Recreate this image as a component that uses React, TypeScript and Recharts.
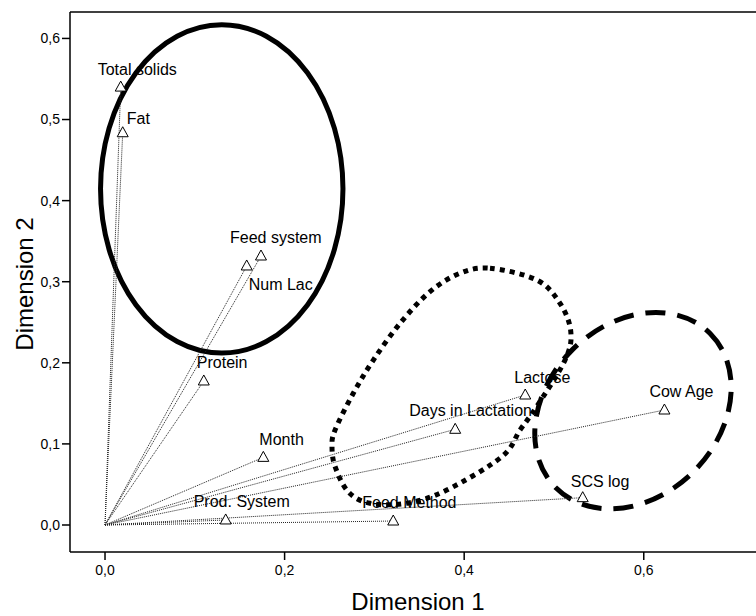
import React from 'react';
import { ScatterChart, Scatter, XAxis, YAxis, ReferenceLine, ReferenceArea, Label } from 'recharts';

// variable loadings on the two dimensions
const variables = [
  'Total solids', 'Fat', 'Feed system', 'Num Lac', 'Protein', 'Month',
  'Prod. System', 'Feed Method', 'Days in Lactation', 'Lactose', 'SCS log', 'Cow Age',
];
const dim1 = [0.0175, 0.0197, 0.1737, 0.1578, 0.110, 0.1763, 0.1344, 0.321, 0.390, 0.468, 0.532, 0.623];
const dim2 = [0.540, 0.4837, 0.3317, 0.3194, 0.1776, 0.0834, 0.0062, 0.0049, 0.118, 0.1603, 0.0337, 0.1418];

const xTicks = [0, 0.2, 0.4, 0.6];
const yTicks = [0, 0.1, 0.2, 0.3, 0.4, 0.5, 0.6];

const X_DOMAIN: [number, number] = [-0.039, 0.725];
const Y_DOMAIN: [number, number] = [-0.0333, 0.6326];

// label placement relative to the marker (left edge, baseline)
const labelOffset: Record<string, [number, number]> = {
  'Total solids': [-23, -12],
  'Fat': [4, -9],
  'Feed system': [-31, -13],
  'Num Lac': [2, 24],
  'Protein': [-7, -13],
  'Month': [-4, -12],
  'Prod. System': [-32, -13],
  'Feed Method': [-31, -13],
  'Days in Lactation': [-46, -13],
  'Lactose': [-11, -12],
  'SCS log': [-12, -11],
  'Cow Age': [-15, -13],
};

// group outlines: bounding boxes in data units
const solidGroup = { x1: -0.005, x2: 0.265, y1: 0.212, y2: 0.617 };
const dashedGroup = { x1: 0.4665, x2: 0.7095, y1: 0.035, y2: 0.247 };
const dottedGroup = { x1: 0.2528, x2: 0.519, y1: 0.0259, y2: 0.3169 };

// outline of the dotted blob, normalised to its box
const blobShape: [number, number][] = [
  [0.661, 0.001], [0.857, 0.051], [0.954, 0.150], [0.999, 0.270], [0.975, 0.390],
  [0.856, 0.588], [0.787, 0.686], [0.710, 0.800], [0.480, 0.941], [0.313, 0.997],
  [0.159, 0.997], [0.068, 0.948], [0.013, 0.842], [0.0, 0.757], [0.013, 0.686],
  [0.089, 0.531], [0.173, 0.390], [0.285, 0.234], [0.410, 0.100], [0.536, 0.022],
];

const points = variables.map((name, i) => ({ name, x: dim1[i], y: dim2[i] }));

const FONT = '"Liberation Sans", Arial, sans-serif';
const fmt = (v: number) => v.toFixed(1).replace('.', ',');

const closedPath = (pts: [number, number][]) => {
  const n = pts.length;
  let d = `M${pts[0][0]},${pts[0][1]}`;
  for (let i = 0; i < n; i++) {
    const p0 = pts[(i - 1 + n) % n];
    const p1 = pts[i];
    const p2 = pts[(i + 1) % n];
    const p3 = pts[(i + 2) % n];
    const c1 = [p1[0] + (p2[0] - p0[0]) / 6, p1[1] + (p2[1] - p0[1]) / 6];
    const c2 = [p2[0] - (p3[0] - p1[0]) / 6, p2[1] - (p3[1] - p1[1]) / 6];
    d += ` C${c1[0]},${c1[1]} ${c2[0]},${c2[1]} ${p2[0]},${p2[1]}`;
  }
  return d + ' Z';
};

const Marker = (props: any) => {
  const { cx, cy, payload } = props;
  const [dx, dy] = labelOffset[payload.name] || [0, -12];
  return (
    <g>
      <polygon
        points={`${cx},${cy - 6} ${cx - 5.5},${cy + 4} ${cx + 5.5},${cy + 4}`}
        fill="#fff"
        stroke="#000"
        strokeWidth={1}
      />
      <text x={cx + dx} y={cy + dy} fontSize={16} fontFamily={FONT} fill="#000">
        {payload.name}
      </text>
    </g>
  );
};

const ellipseShape = (dash?: string, angle = 0) => (props: any) => {
  const { x, y, width, height } = props;
  const cx = x + width / 2;
  const cy = y + height / 2;
  return (
    <ellipse
      cx={cx}
      cy={cy}
      rx={Math.abs(width) / 2}
      ry={Math.abs(height) / 2}
      transform={`rotate(${angle} ${cx} ${cy})`}
      fill="none"
      stroke="#000"
      strokeWidth={5}
      strokeDasharray={dash}
    />
  );
};

const blobRender = (props: any) => {
  const { x, y, width, height } = props;
  const pts = blobShape.map(([u, v]) => [x + u * width, y + v * height] as [number, number]);
  return <path d={closedPath(pts)} fill="none" stroke="#000" strokeWidth={5} strokeDasharray="5 5" />;
};

export default function App() {
  return (
    <div style={{ position: 'absolute', left: 0, top: 0, fontFamily: FONT, background: '#fff' }}>
      <ScatterChart width={756} height={616} margin={{ top: 12, right: 0, bottom: 0, left: 0 }}>
        <XAxis
          type="number"
          dataKey="x"
          domain={X_DOMAIN}
          ticks={xTicks}
          allowDataOverflow
          tickFormatter={fmt}
          height={64}
          tickSize={8}
          tickMargin={5}
          axisLine={{ stroke: '#000', strokeWidth: 1.5 }}
          tickLine={{ stroke: '#000', strokeWidth: 1.5 }}
          tick={{ fill: '#000', fontSize: 14, fontFamily: FONT }}
        >
          <Label
            content={(p: any) => {
              const vb = p.viewBox;
              return (
                <text x={vb.x + vb.width / 2 + 5} y={vb.y + vb.height - 6} textAnchor="middle" fontSize={24} fontFamily={FONT} fill="#000">
                  Dimension 1
                </text>
              );
            }}
          />
        </XAxis>
        <YAxis
          type="number"
          dataKey="y"
          domain={Y_DOMAIN}
          ticks={yTicks}
          allowDataOverflow
          tickFormatter={fmt}
          width={70}
          tickSize={8}
          tickMargin={2}
          axisLine={{ stroke: '#000', strokeWidth: 1.5 }}
          tickLine={{ stroke: '#000', strokeWidth: 1.5 }}
          tick={{ fill: '#000', fontSize: 14, fontFamily: FONT }}
        >
          <Label
            content={(p: any) => {
              const vb = p.viewBox;
              const lx = vb.x + 33;
              const ly = vb.y + vb.height / 2 + 2;
              return (
                <text x={lx} y={ly} transform={`rotate(-90 ${lx} ${ly})`} textAnchor="middle" fontSize={24} fontFamily={FONT} fill="#000">
                  Dimension 2
                </text>
              );
            }}
          />
        </YAxis>
        <ReferenceLine y={Y_DOMAIN[1]} stroke="#000" strokeWidth={1.5} ifOverflow="visible" />
        {points.map((p) => (
          <ReferenceLine
            key={p.name}
            segment={[{ x: 0, y: 0 }, { x: p.x, y: p.y }]}
            stroke="#222"
            strokeWidth={1}
            strokeDasharray="1 1"
            ifOverflow="visible"
          />
        ))}
        <Scatter data={points} shape={<Marker />} isAnimationActive={false} />
        <ReferenceArea {...solidGroup} ifOverflow="visible" shape={ellipseShape(undefined, 0)} />
        <ReferenceArea {...dashedGroup} ifOverflow="visible" shape={ellipseShape('20 12', -45)} />
        <ReferenceArea {...dottedGroup} ifOverflow="visible" shape={blobRender} />
      </ScatterChart>
    </div>
  );
}
